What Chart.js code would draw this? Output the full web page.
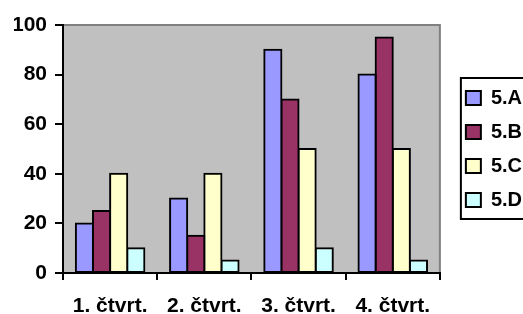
<!DOCTYPE html>
<html>
<head>
<meta charset="utf-8">
<script src="https://cdn.jsdelivr.net/npm/chart.js@4/dist/chart.umd.min.js"></script>
<style>
html,body{margin:0;padding:0;background:#fff;overflow:hidden;}
#wrap{width:523px;height:314px;position:relative;}
</style>
</head>
<body>
<div id="wrap"><canvas id="c" width="523" height="314"></canvas></div>
<script>
const categories = ['1. čtvrt.', '2. čtvrt.', '3. čtvrt.', '4. čtvrt.'];
const seriesNames = ['5.A', '5.B', '5.C', '5.D'];
const valuesA = [20, 30, 90, 80];
const valuesB = [25, 15, 70, 95];
const valuesC = [40, 40, 50, 50];
const valuesD = [10, 5, 10, 5];
const yTicks = [0, 20, 40, 60, 80, 100];

const colors = ['#9999FF', '#993366', '#FFFFCC', '#CCFFFF'];
const allValues = [valuesA, valuesB, valuesC, valuesD];

const FAMILY = '"Liberation Sans", Arial, sans-serif';
const TICK_FONT = {family: FAMILY, size: 21, weight: 'bold', lineHeight: 1};
const LEGEND_FONT = {family: FAMILY, size: 20, weight: 'bold', lineHeight: 1};
const LEGEND_PAD = 14;

const plotBg = {
  id: 'plotBg',
  beforeDraw(chart) {
    const {ctx, chartArea: a} = chart;
    ctx.save();
    ctx.fillStyle = '#C0C0C0';
    ctx.fillRect(a.left, a.top, a.right - a.left, a.bottom - a.top);
    ctx.strokeStyle = '#808080';
    ctx.lineWidth = 2;
    ctx.beginPath();
    ctx.moveTo(a.left, a.top);
    ctx.lineTo(a.right, a.top);
    ctx.lineTo(a.right, a.bottom);
    ctx.stroke();
    ctx.restore();
  }
};

// place the legend block like the original (right of plot, fixed top)
const legendPlace = {
  id: 'legendPlace',
  afterLayout(chart) {
    const lg = chart.legend;
    if (!lg) return;
    const dx = 12;
    lg.left += dx; lg.right += dx;
    const dy = 74 - lg.top;
    lg.top += dy; lg.bottom += dy;
  },
  afterDraw(chart) {
    const lg = chart.legend;
    if (!lg) return;
    const n = chart.data.datasets.length;
    const rowH = LEGEND_FONT.size + LEGEND_PAD;
    const x0 = lg.left + LEGEND_PAD - 5;
    const y0 = lg.top + 4;
    const y1 = lg.top + LEGEND_PAD + (n - 1) * rowH + LEGEND_FONT.size + 9;
    const ctx = chart.ctx;
    ctx.save();
    ctx.strokeStyle = '#000';
    ctx.lineWidth = 2;
    ctx.strokeRect(x0, y0, 200, y1 - y0);
    ctx.restore();
  }
};

new Chart(document.getElementById('c'), {
  type: 'bar',
  data: {
    labels: categories,
    datasets: seriesNames.map((n, i) => ({
      label: n,
      data: allValues[i],
      backgroundColor: colors[i],
      borderColor: '#000',
      borderWidth: 2,
      borderSkipped: false,
      inflateAmount: 1,
      categoryPercentage: 4 / 5.5,
      barPercentage: 1
    }))
  },
  options: {
    responsive: false,
    animation: false,
    devicePixelRatio: 1,
    layout: {padding: {top: 25, right: 3, left: 14, bottom: 0}},
    plugins: {
      tooltip: {enabled: false},
      legend: {
        position: 'right',
        align: 'start',
        labels: {
          font: LEGEND_FONT,
          color: '#000',
          boxWidth: 15,
          boxHeight: 14,
          padding: LEGEND_PAD,
          generateLabels(chart) {
            return chart.data.datasets.map((d, i) => ({
              text: d.label,
              fillStyle: d.backgroundColor,
              strokeStyle: '#000',
              lineWidth: 2,
              datasetIndex: i,
              fontColor: '#000'
            }));
          }
        }
      }
    },
    scales: {
      x: {
        afterFit(scale) { scale.height = 41; },
        grid: {display: true, drawOnChartArea: false, drawTicks: true, tickLength: 7, color: '#000', lineWidth: 2, offset: true},
        border: {display: true, color: '#000', width: 2},
        ticks: {font: TICK_FONT, color: '#000', padding: 16, maxRotation: 0, autoSkip: false}
      },
      y: {
        min: 0, max: 100,
        afterFit(scale) { scale.width = 49; },
        afterBuildTicks(scale) { scale.ticks = yTicks.map(v => ({value: v})); },
        grid: {display: true, drawOnChartArea: false, drawTicks: true, tickLength: 8, color: '#000', lineWidth: 2},
        border: {display: true, color: '#000', width: 2},
        ticks: {font: TICK_FONT, color: '#000', padding: 8}
      }
    }
  },
  plugins: [plotBg, legendPlace]
});
</script>
</body>
</html>
